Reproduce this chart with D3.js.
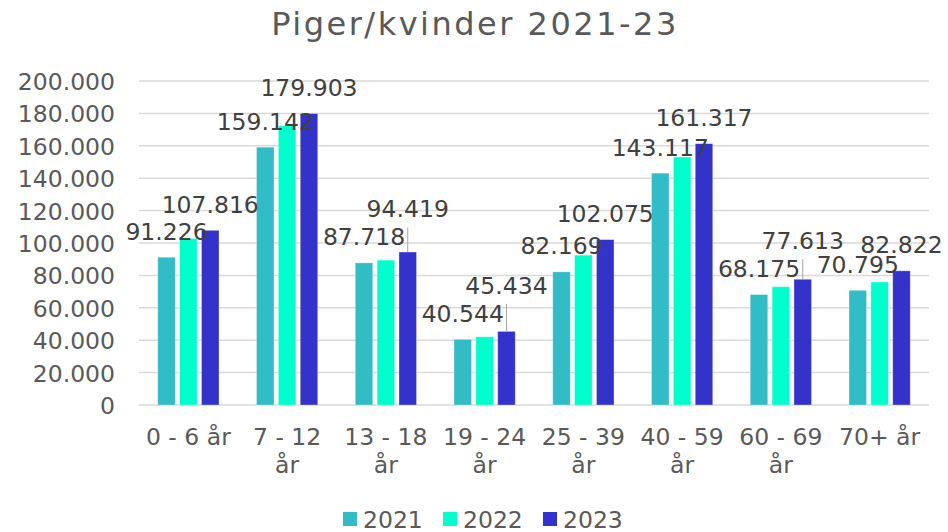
<!DOCTYPE html>
<html>
<head>
<meta charset="utf-8">
<script src="https://cdn.jsdelivr.net/npm/d3@7"></script>
<style>
  body { margin: 0; background: #fff; }
  svg text { font-family: "DejaVu Sans", Verdana, sans-serif; }
</style>
</head>
<body>
<div id="chart"></div>
<script>
// data
var categories = ["0 - 6 år", "7 - 12 år", "13 - 18 år", "19 - 24 år", "25 - 39 år", "40 - 59 år", "60 - 69 år", "70+ år"];
var years = ["2021", "2022", "2023"];
var values2021 = [91226, 159142, 87718, 40544, 82169, 143117, 68175, 70795];
var values2022 = [102800, 172300, 89400, 42100, 92500, 153100, 73000, 75900];
var values2023 = [107816, 179903, 94419, 45434, 102075, 161317, 77613, 82822];
var yTicks = [0, 20000, 40000, 60000, 80000, 100000, 120000, 140000, 160000, 180000, 200000];
var labelledYears = ["2021", "2023"];

var colors = { "2021": "#31bcc6", "2022": "#00ffcc", "2023": "#3333cc" };

var width = 948, height = 532;
var plot = { left: 139, right: 929, top: 81, bottom: 405 };

var svg = d3.select("#chart").append("svg")
  .attr("width", width)
  .attr("height", height);

// format like 200.000 (danish thousands)
var fmt = function(v) {
  return d3.format(",")(v).replace(/,/g, ".");
};

var x = d3.scaleBand()
  .domain(categories)
  .range([plot.left, plot.right])
  .paddingInner(0.38)
  .paddingOuter(0.19);

var xInner = d3.scaleBand()
  .domain(years)
  .range([0, x.bandwidth()])
  .paddingInner(0.2);

var y = d3.scaleLinear()
  .domain([0, 200000])
  .range([plot.bottom, plot.top]);

var seriesValues = { "2021": values2021, "2022": values2022, "2023": values2023 };

var rows = categories.map(function(c, i) {
  return {
    cat: c,
    bars: years.map(function(yr) { return { year: yr, cat: c, value: seriesValues[yr][i] }; })
  };
});

// title
svg.append("text")
  .attr("x", 475)
  .attr("y", 35)
  .attr("text-anchor", "middle")
  .attr("fill", "#595959")
  .style("font-size", "32px")
  .style("letter-spacing", "2.5px")
  .text("Piger/kvinder 2021-23");

// gridlines
svg.append("g")
  .selectAll("line")
  .data(yTicks)
  .enter()
  .append("line")
  .attr("x1", plot.left)
  .attr("x2", plot.right)
  .attr("y1", function(d) { return y(d); })
  .attr("y2", function(d) { return y(d); })
  .attr("stroke", "#d9d9d9")
  .attr("stroke-width", 1.5);

// y axis labels
var yAxis = svg.append("g")
  .attr("transform", "translate(" + (plot.left - 24) + ",0)")
  .call(d3.axisLeft(y).tickValues(yTicks).tickSize(0).tickPadding(0).tickFormat(fmt));
yAxis.select(".domain").remove();
yAxis.selectAll("text")
  .attr("fill", "#595959")
  .attr("dy", "0.36em")
  .style("font-size", "23.5px");

// bars
var groups = svg.append("g")
  .selectAll("g")
  .data(rows)
  .enter()
  .append("g")
  .attr("transform", function(d) { return "translate(" + x(d.cat) + ",0)"; });

groups.selectAll("rect")
  .data(function(d) { return d.bars; })
  .enter()
  .append("rect")
  .attr("x", function(d) { return xInner(d.year); })
  .attr("width", xInner.bandwidth())
  .attr("y", function(d) { return y(d.value); })
  .attr("height", function(d) { return y(0) - y(d.value); })
  .attr("fill", function(d) { return colors[d.year]; })
  .attr("stroke", "#ffffff")
  .attr("stroke-opacity", 0.4)
  .attr("stroke-width", 0.75);

// data labels: only 2021 and 2023, 2023 pushed up when it collides
var labelGap = 17.5;
rows.forEach(function(r) {
  var cx = {}, base = {};
  labelledYears.forEach(function(yr) {
    var b = r.bars.filter(function(d) { return d.year === yr; })[0];
    cx[yr] = x(r.cat) + xInner(yr) + xInner.bandwidth() / 2;
    base[yr] = y(b.value) - labelGap;
  });
  var moved = false;
  if (base["2021"] - base["2023"] < 17) {
    base["2023"] = base["2021"] - 28;
    moved = true;
  }
  if (moved) {
    var top23 = y(r.bars[2].value);
    svg.append("line")
      .attr("x1", cx["2023"]).attr("x2", cx["2023"])
      .attr("y1", base["2023"] + 10).attr("y2", top23)
      .attr("stroke", "#a6a6a6")
      .attr("stroke-width", 1);
  }
  labelledYears.forEach(function(yr, k) {
    svg.append("text")
      .attr("x", cx[yr])
      .attr("y", base[yr])
      .attr("text-anchor", "middle")
      .attr("fill", "#404040")
      .style("font-size", "23.5px")
      .text(fmt(r.bars[yr === "2021" ? 0 : 2].value));
  });
});

// category labels, wrapped to the band
var catG = svg.append("g");
categories.forEach(function(c) {
  var t = catG.append("text")
    .attr("x", x(c) + x.bandwidth() / 2)
    .attr("y", 445)
    .attr("text-anchor", "middle")
    .attr("fill", "#595959")
    .style("font-size", "23.5px")
    .text(c);
  if (t.node().getComputedTextLength() > x.step()) {
    var words = c.split(" ");
    var last = words.pop();
    t.text(null);
    t.append("tspan").attr("x", x(c) + x.bandwidth() / 2).text(words.join(" "));
    t.append("tspan").attr("x", x(c) + x.bandwidth() / 2).attr("dy", 28).text(last);
  }
});

// legend
var legend = svg.append("g")
  .selectAll("g")
  .data(years)
  .enter()
  .append("g")
  .attr("transform", function(d, i) { return "translate(" + (343 + i * 100) + ",0)"; });

legend.append("rect")
  .attr("x", 0)
  .attr("y", 512)
  .attr("width", 14)
  .attr("height", 14)
  .attr("fill", function(d) { return colors[d]; });

legend.append("text")
  .attr("x", 20)
  .attr("y", 527.5)
  .attr("fill", "#595959")
  .style("font-size", "23.5px")
  .text(function(d) { return d; });
</script>
</body>
</html>
